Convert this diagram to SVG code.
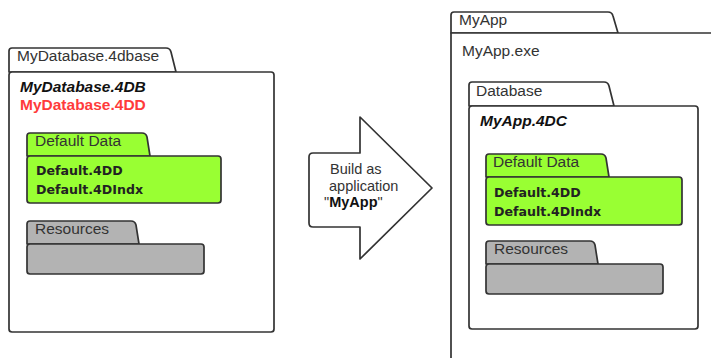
<svg xmlns="http://www.w3.org/2000/svg" width="711" height="358" viewBox="0 0 711 358">
<style>
.ln{fill:#fff;stroke:#333;stroke-width:1.7;stroke-linejoin:round}
.gr{fill:#99ff33;stroke:#333;stroke-width:1.7;stroke-linejoin:round}
.gy{fill:#b3b3b3;stroke:#333;stroke-width:1.7;stroke-linejoin:round}
.lb{font-family:"Liberation Sans",Arial,sans-serif;font-size:15.5px;fill:#333}
.bi{font-family:"Liberation Sans",Arial,sans-serif;font-size:15.5px;font-weight:bold;font-style:italic;fill:#111}
.rd{font-family:"Liberation Sans",Arial,sans-serif;font-size:15.5px;font-weight:bold;fill:#ff3b3b}
.fl{font-family:"DejaVu Sans",Verdana,sans-serif;font-size:12.6px;font-weight:bold;fill:#222}
.ab{font-family:"Liberation Sans",Arial,sans-serif;font-size:14.5px;fill:#333}
</style>
<rect width="711" height="358" fill="#fff"/>
<g id="mydatabase-4dbase">
<path class="ln" d="M9,72 V51 Q9,48 12,48 H166 Q170,48 171,52 L176,72 Z"/>
<rect class="ln" x="9" y="72" width="265" height="260" rx="3"/>
<text class="lb" x="17" y="61">MyDatabase.4dbase</text>
<text class="bi" x="20" y="92">MyDatabase.4DB</text>
<text class="rd" x="20" y="110">MyDatabase.4DD</text>
</g>
<g id="left-default-data">
<path class="gr" d="M27,156 V136 Q27,133 30,133 H142 Q146,133 147,137 L150,156 Z"/>
<rect class="gr" x="27" y="156" width="194" height="47" rx="3"/>
<text class="lb" x="35" y="146">Default Data</text>
<text class="fl" x="36" y="175">Default.4DD</text>
<text class="fl" x="36" y="194">Default.4DIndx</text>
</g>
<g id="left-resources">
<path class="gy" d="M27,244 V224 Q27,221 30,221 H131 Q135,221 136,225 L139,244 Z"/>
<rect class="gy" x="27" y="244" width="177" height="30" rx="3"/>
<text class="lb" x="35" y="234">Resources</text>
</g>
<g id="build-arrow">
<path class="ln" d="M313,153 H360 V117 L432,188 L360,259 V227 H313 Q309,227 309,223 V157 Q309,153 313,153 Z"/>
<text class="ab" x="330" y="174">Build as</text>
<text class="ab" x="329" y="190.5">application</text>
<text class="ab" x="324" y="207"><tspan>"</tspan><tspan font-weight="bold" fill="#111">MyApp</tspan><tspan>"</tspan></text>
</g>
<g id="myapp">
<path class="ln" d="M451,33 V15 Q451,12 454,12 H608 Q612,12 613,16 L618,33 Z"/>
<path class="ln" d="M451,365 V33 H720 V365 Z"/>
<text class="lb" x="459" y="25">MyApp</text>
<text class="lb" x="462" y="56">MyApp.exe</text>
</g>
<g id="database">
<path class="ln" d="M469,106 V85 Q469,82 472,82 H604 Q608,82 609,86 L614,106 Z"/>
<rect class="ln" x="469" y="106" width="229" height="223" rx="3"/>
<text class="lb" x="476" y="96">Database</text>
<text class="bi" x="480" y="126">MyApp.4DC</text>
</g>
<g id="right-default-data">
<path class="gr" d="M486,177 V157 Q486,154 489,154 H601 Q605,154 606,158 L609,177 Z"/>
<rect class="gr" x="486" y="177" width="196" height="48" rx="3"/>
<text class="lb" x="493" y="167">Default Data</text>
<text class="fl" x="494" y="197">Default.4DD</text>
<text class="fl" x="494" y="216">Default.4DIndx</text>
</g>
<g id="right-resources">
<path class="gy" d="M486,264 V244 Q486,241 489,241 H590 Q594,241 595,245 L598,264 Z"/>
<rect class="gy" x="486" y="264" width="177" height="30" rx="3"/>
<text class="lb" x="494" y="254">Resources</text>
</g>
<g id="connectors"/>
</svg>
